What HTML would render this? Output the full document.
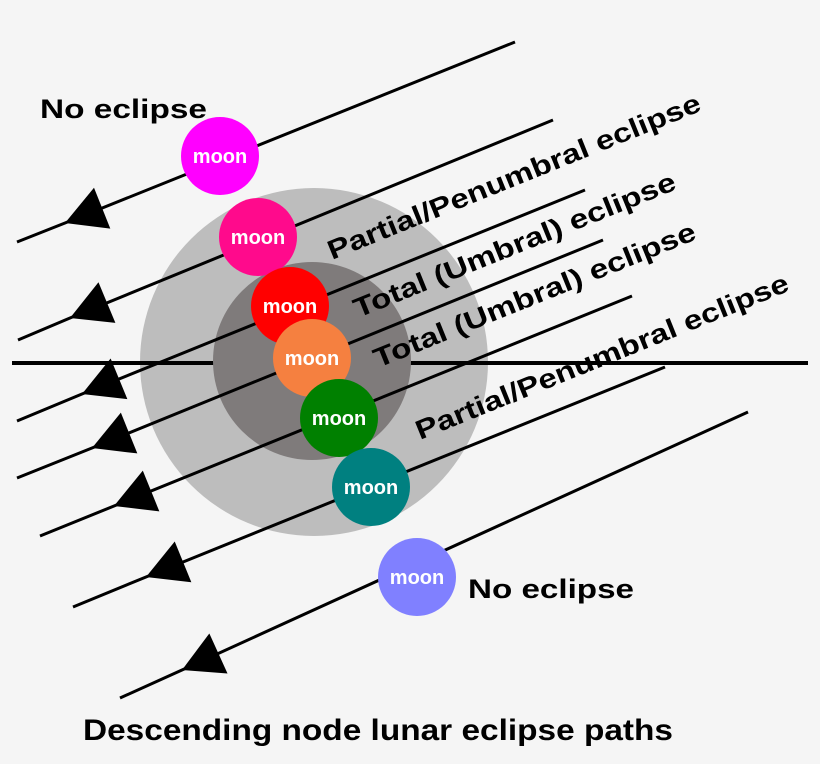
<!DOCTYPE html>
<html><head><meta charset="utf-8"><style>
html,body{margin:0;padding:0;background:#f5f5f5}
svg{display:block}
text{font-family:"Liberation Sans",sans-serif;font-weight:bold}
</style></head><body>
<svg width="820" height="764" viewBox="0 0 820 764" xmlns="http://www.w3.org/2000/svg">
<defs>
<marker id="a" markerUnits="userSpaceOnUse" orient="auto" refX="0" refY="0" markerWidth="60" markerHeight="60" viewBox="-5 -30 60 60" overflow="visible">
<path d="M0,0 L40,-22 L40,22 z" fill="#000"/>
</marker>
</defs>
<rect width="820" height="764" fill="#f5f5f5"/>
<circle cx="314" cy="362" r="174" fill="#bdbdbd"/>
<line x1="12" y1="363" x2="808" y2="363" stroke="#000" stroke-width="4"/>
<circle cx="312" cy="361" r="99" fill="#7f7b7b"/>
<g stroke="#000" stroke-width="3" fill="none" marker-mid="url(#a)">
<polyline points="17,242 65,223 515,42"/>
<polyline points="18,340 70,318 553,120"/>
<polyline points="17,421 82,394 585,190"/>
<polyline points="17,478 92,448 603,240"/>
<polyline points="40,536 114,506 632,296"/>
<polyline points="73,607 146,577 665,367"/>
<polyline points="120,698 182,670 748,412"/>
</g>
<g font-size="20" fill="#fff" text-anchor="middle">
<circle cx="220" cy="156" r="39" fill="#ff00ff"/><text x="220" y="163">moon</text>
<circle cx="258" cy="237" r="39" fill="#ff0a8c"/><text x="258" y="244">moon</text>
<circle cx="290" cy="306" r="39" fill="#ff0000"/><text x="290" y="313">moon</text>
<circle cx="312" cy="358" r="39" fill="#f58040"/><text x="312" y="365">moon</text>
<circle cx="339" cy="418" r="39" fill="#008000"/><text x="339" y="425">moon</text>
<circle cx="371" cy="487" r="39" fill="#008080"/><text x="371" y="494">moon</text>
<circle cx="417" cy="577" r="39" fill="#8080ff"/><text x="417" y="584">moon</text>
</g>
<g font-size="27" fill="#000">
<text transform="translate(332,260) rotate(-22)" textLength="400" lengthAdjust="spacingAndGlyphs">Partial/Penumbral eclipse</text>
<text transform="translate(358,318) rotate(-22)" textLength="345" lengthAdjust="spacingAndGlyphs">Total (Umbral) eclipse</text>
<text transform="translate(378,368) rotate(-22)" textLength="345" lengthAdjust="spacingAndGlyphs">Total (Umbral) eclipse</text>
<text transform="translate(420,440) rotate(-22)" textLength="400" lengthAdjust="spacingAndGlyphs">Partial/Penumbral eclipse</text>
<text x="40" y="118" textLength="167" lengthAdjust="spacingAndGlyphs">No eclipse</text>
<text x="468" y="598" textLength="166" lengthAdjust="spacingAndGlyphs">No eclipse</text>
<text x="83" y="740" font-size="30" textLength="590" lengthAdjust="spacingAndGlyphs">Descending node lunar eclipse paths</text>
</g>
<line x1="411" y1="363" x2="808" y2="363" stroke="#000" stroke-width="4"/>
</svg>
</body></html>
